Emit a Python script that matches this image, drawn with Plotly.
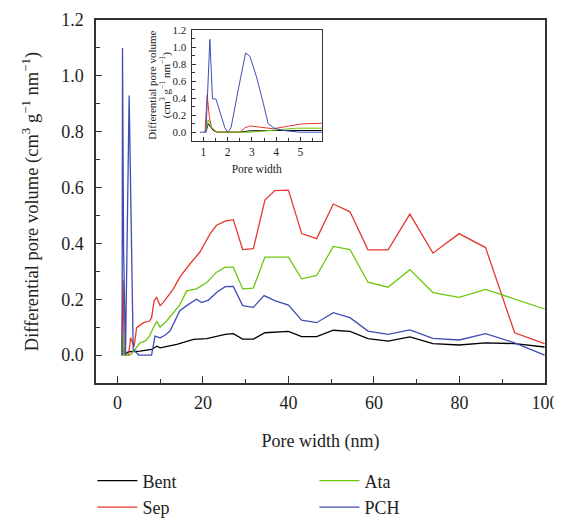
import plotly.graph_objects as go

# ---- main plot data (pore width in nm, differential pore volume) ----
bent_x = [1.0, 1.2, 1.6, 2.6, 5.3, 8.0, 9.2, 10.0, 13.9, 17.8, 20.9, 23.2, 25.2, 27.1, 29.3, 31.8, 34.5, 40.0,
          43.1, 46.6, 50.5, 54.4, 58.6, 63.3, 68.4, 73.8, 79.9, 86.1, 92.9, 99.9]
bent_y = [0.0, 0.06, 0.0, 0.012, 0.014, 0.02, 0.032, 0.026, 0.038, 0.056, 0.059, 0.068, 0.074, 0.077, 0.057,
          0.057, 0.08, 0.085, 0.066, 0.066, 0.089, 0.085, 0.059, 0.05, 0.065, 0.041, 0.036, 0.044, 0.041, 0.029]

sep_x = [1.0, 1.33, 1.6, 2.6, 3.1, 3.9, 4.5, 6.1, 7.5, 8.0, 8.6, 9.2, 10.0, 10.7, 13.1, 14.6, 17.0, 19.3, 21.7,
         23.2, 25.2, 27.1, 29.3, 31.8, 34.5, 36.8, 40.0, 43.1, 46.6, 50.5, 54.4, 58.6, 63.3, 68.4, 73.8, 79.9,
         86.1, 92.9, 99.9]
sep_y = [0.0, 0.27, 0.0, 0.0, 0.062, 0.03, 0.098, 0.116, 0.122, 0.134, 0.195, 0.206, 0.177, 0.188, 0.237, 0.279,
         0.327, 0.369, 0.435, 0.465, 0.48, 0.485, 0.378, 0.381, 0.555, 0.589, 0.591, 0.435, 0.417, 0.541, 0.513,
         0.377, 0.377, 0.505, 0.365, 0.435, 0.385, 0.080, 0.041]

ata_x = [1.0, 1.2, 1.6, 3.0, 4.1, 5.3, 6.5, 7.5, 8.4, 9.2, 10.0, 11.5, 14.6, 16.2, 18.5, 20.9, 23.2, 25.2, 27.1,
         29.3, 31.8, 34.5, 40.0, 43.1, 46.6, 50.5, 54.4, 58.6, 63.3, 68.4, 73.8, 79.9, 86.1, 99.9]
ata_y = [0.0, 0.085, 0.0, 0.0, 0.02, 0.044, 0.05, 0.068, 0.098, 0.12, 0.10, 0.122, 0.18, 0.23, 0.237, 0.26, 0.297,
         0.315, 0.315, 0.237, 0.24, 0.351, 0.351, 0.273, 0.285, 0.389, 0.378, 0.261, 0.243, 0.306, 0.224, 0.207,
         0.235, 0.165]

pch_x = [0.9, 1.1, 1.2, 1.45, 1.9, 2.75, 3.7, 5.0, 8.0, 8.8, 10.0, 11.2, 12.3, 14.6, 16.2, 18.5, 19.7, 21.3, 23.2,
         25.2, 27.1, 29.3, 31.8, 34.3, 36.8, 40.0, 43.1, 46.6, 50.5, 54.4, 58.6, 63.3, 68.4, 73.8, 79.9, 86.1,
         92.9, 99.9]
pch_y = [0.0, 0.0, 1.1, 0.38, 0.0, 0.93, 0.02, 0.0, 0.0, 0.068, 0.062, 0.072, 0.086, 0.159, 0.177, 0.2, 0.188,
         0.197, 0.224, 0.245, 0.246, 0.177, 0.171, 0.213, 0.195, 0.179, 0.125, 0.116, 0.152, 0.134, 0.086, 0.074,
         0.09, 0.06, 0.054, 0.077, 0.044, 0.0]

# ---- inset data (0.9-5.9 nm) ----
in_bent_x = [1.11, 1.2, 1.41, 1.55, 2.5, 2.92, 4.0, 5.9]
in_bent_y = [0.0, 0.1, 0.02, 0.0, 0.0, 0.016, 0.02, 0.02]
in_sep_x = [1.07, 1.16, 1.25, 1.34, 1.55, 2.5, 2.71, 2.92, 3.33, 3.88, 4.56, 5.1, 5.9]
in_sep_y = [0.0, 0.44, 0.18, 0.05, 0.0, 0.0, 0.05, 0.074, 0.059, 0.04, 0.074, 0.098, 0.105]
in_ata_x = [1.11, 1.2, 1.34, 1.55, 2.92, 4.0, 4.84, 5.9]
in_ata_y = [0.0, 0.145, 0.06, 0.0, 0.0, 0.027, 0.047, 0.047]
in_pch_x = [0.86, 1.11, 1.27, 1.38, 1.52, 1.75, 1.89, 2.0, 2.14, 2.44, 2.74, 2.92, 3.19, 3.47, 3.67, 3.9, 4.29,
            4.97, 5.9]
in_pch_y = [0.0, 0.0, 1.09, 0.39, 0.39, 0.18, 0.05, 0.0, 0.05, 0.5, 0.93, 0.89, 0.65, 0.34, 0.1, 0.05, 0.02,
            0.0, 0.0]

names = ["Bent", "Sep", "Ata", "PCH"]
colors = ["#000000", "#e5392d", "#6cc70f", "#3f4db3"]
ranks = [1, 3, 2, 4]
main_sets = [(bent_x, bent_y), (sep_x, sep_y), (ata_x, ata_y), (pch_x, pch_y)]
inset_sets = [(in_bent_x, in_bent_y), (in_sep_x, in_sep_y), (in_ata_x, in_ata_y), (in_pch_x, in_pch_y)]

FONT = "Liberation Serif"
fig = go.Figure()
for (x, y), n, c, r in zip(main_sets, names, colors, ranks):
    fig.add_trace(go.Scatter(x=x, y=y, mode="lines", name=n, legendrank=r,
                             line=dict(color=c, width=1.3), xaxis="x", yaxis="y"))
for (x, y), n, c in zip(inset_sets, names, colors):
    fig.add_trace(go.Scatter(x=x, y=y, mode="lines", name=n, showlegend=False,
                             line=dict(color=c, width=1.0), xaxis="x2", yaxis="y2"))

axis_common = dict(showgrid=False, zeroline=False, showline=True, linecolor="#333",
                   ticks="inside", tickcolor="#333", automargin=False)
# the page body has an 8px margin, so the figure is sized/offset to compensate
fig.update_layout(
    width=554, height=511,
    margin=dict(l=88, r=17, t=12, b=136, autoexpand=False),
    paper_bgcolor="white", plot_bgcolor="white",
    font=dict(family=FONT, color="#222", size=18),
    xaxis=dict(**axis_common, linewidth=1.5, mirror=True, range=[-5, 100], tickvals=[0, 20, 40, 60, 80, 100],
               ticklen=7, tickwidth=1.2, minor=dict(dtick=10, tick0=0, ticklen=4, ticks="inside", tickcolor="#333"),
               tickfont=dict(size=18), ticklabelstandoff=3,
               title=dict(text="Pore width (nm)", font=dict(size=18), standoff=22)),
    yaxis=dict(**axis_common, linewidth=1.5, mirror=True, range=[-0.1, 1.2], tickvals=[0, 0.2, 0.4, 0.6, 0.8, 1.0, 1.2],
               tickformat=".1f", ticklen=6, tickwidth=1.2,
               minor=dict(dtick=0.1, tick0=0, ticklen=4, ticks="inside", tickcolor="#333"),
               tickfont=dict(size=18), ticklabelstandoff=7,
               title=dict(text="Differential pore volume (cm<sup>3</sup> g<sup>−1</sup> nm<sup>−1</sup>)",
                          font=dict(size=18.5), standoff=18)),
    xaxis2=dict(**axis_common, linewidth=1.2, mirror=True, anchor="y2", domain=[0.213, 0.503], range=[0.52, 5.88],
                tickvals=[1, 2, 3, 4, 5], ticklen=4, tickwidth=1,
                minor=dict(dtick=0.5, tick0=0, ticklen=3, ticks="inside", tickcolor="#333"),
                tickfont=dict(size=11.5),
                title=dict(text="Pore width", font=dict(size=11.5), standoff=8)),
    yaxis2=dict(**axis_common, linewidth=1.2, mirror=True, anchor="x2", domain=[0.6675, 0.9725], range=[-0.1, 1.2],
                tickvals=[0, 0.2, 0.4, 0.6, 0.8, 1.0, 1.2], tickformat=".1f", ticklen=4, tickwidth=1,
                minor=dict(dtick=0.1, tick0=0, ticklen=3, ticks="inside", tickcolor="#333"),
                tickfont=dict(size=11), ticklabelstandoff=2),
    annotations=[dict(text="Differential pore volume<br>(cm<sup>3</sup> g<sup>−1</sup> nm<sup>−1</sup>)",
                      xref="paper", yref="paper", x=0.142, y=0.821, xanchor="center", yanchor="middle",
                      textangle=-90, showarrow=False, font=dict(size=11, family=FONT, color="#222"))],
    legend=dict(orientation="h", x=-0.008, xanchor="left", y=-0.219, yanchor="top",
                itemwidth=40, entrywidth=167, entrywidthmode="pixels", traceorder="normal",
                font=dict(size=18, family=FONT, color="#222"), bgcolor="rgba(0,0,0,0)"),
    showlegend=True,
)
fig.write_html("out.html")
